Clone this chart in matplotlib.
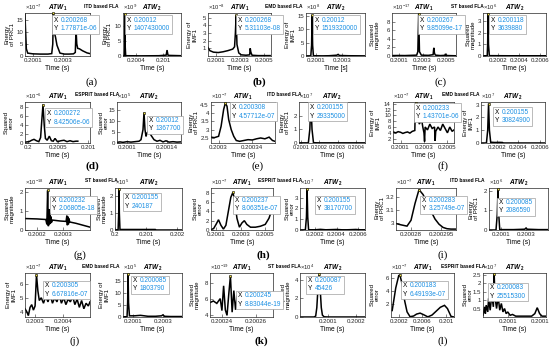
import matplotlib
matplotlib.use('Agg')
import matplotlib.pyplot as plt
from matplotlib.patches import Rectangle

plt.rcParams['font.family'] = ['Liberation Sans', 'DejaVu Sans']
plt.rcParams['mathtext.fontset'] = 'custom'
plt.rcParams['mathtext.rm'] = 'Liberation Sans'
plt.rcParams['mathtext.bf'] = 'Liberation Sans:bold'
plt.rcParams['mathtext.it'] = 'Liberation Sans:italic'

# ---------------- data (x in s, y in units of the axis exponent) ----------------
a1_x = [0.200047, 0.200050, 0.200056, 0.200065, 0.20010, 0.20015, 0.20020, 0.200225, 0.200232, 0.200236,
        0.200241, 0.200250, 0.20026, 0.20028, 0.20031, 0.20034, 0.20037, 0.200382, 0.200387, 0.200392,
        0.200398, 0.20041, 0.20043, 0.20046, 0.20048]
a1_y = [17.5, 12, 3, 1.2, 0.9, 0.8, 0.8, 1.0, 5, 17.8, 10, 8, 4.5, 1.2, 0.8, 0.8, 0.9, 1.5, 11, 5,
        3.2, 3, 2.2, 1.3, 1.0]
a2_x = [0.20010, 0.20013, 0.200140, 0.200145, 0.20015, 0.20016, 0.2005, 0.2009, 0.20106, 0.20108, 0.2011, 0.20113, 0.20139]
a2_y = [0.1, 0.1, 3, 14.07, 3, 0.1, 0.05, 0.1, 0.3, 2.0, 0.3, 0.2, 0.1]

b1_x = [0.200035, 0.20005, 0.20008, 0.20012, 0.20016, 0.2002, 0.20024, 0.200255, 0.200262, 0.200268,
        0.200275, 0.20029, 0.20031, 0.20035, 0.20038, 0.200385, 0.20039, 0.2004, 0.20045, 0.20055]
b1_y = [1.1, 0.7, 0.5, 0.45, 0.55, 0.7, 0.9, 1.2, 3, 5.31, 1.5, 0.4, 0.15, 0.1, 0.15, 1.0, 0.5, 0.1, 0.05, 0.05]
b2_x = [0.200023, 0.20006, 0.200066, 0.20007, 0.200074, 0.20008, 0.20015, 0.2002, 0.20026, 0.20027, 0.20028, 0.20035, 0.200477]
b2_y = [0.05, 0.05, 4, 15.19, 4, 0.1, 0.05, 0.1, 0.3, 0.6, 0.2, 0.1, 0.05]

c1_x = [0.20004, 0.2001, 0.20015, 0.20020, 0.20025, 0.20026, 0.200267, 0.200274, 0.20029, 0.20035, 0.20039,
        0.200396, 0.200402, 0.20041, 0.20045, 0.20049, 0.200496, 0.200502, 0.20052, 0.200585]
c1_y = [0.1, 0.12, 0.1, 0.15, 0.2, 1, 9.85, 1.0, 0.2, 0.15, 0.3, 1.9, 0.6, 0.2, 0.1, 0.15, 0.5, 0.15, 0.1, 0.05]
c2_x = [0.20006, 0.2001, 0.200104, 0.200108, 0.200112, 0.20012, 0.2003, 0.2005, 0.200656]
c2_y = [0.02, 0.02, 1, 3.64, 1, 0.03, 0.02, 0.02, 0.02]

d1_x = [0.19996, 0.20002, 0.20006, 0.2001, 0.20014, 0.20018, 0.20021, 0.20023, 0.20025, 0.20027, 0.20029,
        0.20032, 0.200355, 0.20039, 0.20042, 0.20045, 0.20049, 0.20055, 0.2006, 0.20065, 0.2007, 0.20075,
        0.2008, 0.20083]
d1_y = [0.2, 0.3, 0.6, 0.8, 0.5, 0.3, 1.2, 5, 8.43, 4, 1.0, 0.6, 1.5, 0.5, 0.4, 1.0, 0.3, 0.5, 0.6, 0.3,
        0.5, 0.3, 0.4, 0.4]
d2_x = [0.20009, 0.200093, 0.200096, 0.2001, 0.200104, 0.200108, 0.200112, 0.200114, 0.200116, 0.200117,
        0.200118, 0.200119, 0.20012, 0.200122, 0.200124, 0.200127, 0.20013, 0.200133, 0.200136, 0.200139,
        0.200142, 0.200146, 0.20015, 0.200154]
d2_y = [0.3, 0.5, 0.3, 0.6, 0.4, 0.6, 0.8, 1.5, 6, 13.68, 6, 3, 4.5, 5.5, 3.5, 1.5, 0.8, 1.2, 0.5, 1.0,
        0.4, 0.6, 0.4, 0.5]

e1_x = [0.200291, 0.200295, 0.2003, 0.200303, 0.200306, 0.200308, 0.200310, 0.200312, 0.200315, 0.200318,
        0.200321, 0.200325, 0.20033, 0.200335, 0.20034, 0.200345, 0.20035, 0.200355, 0.20036, 0.200364, 0.200367]
e1_y = [2.55, 2.52, 2.6, 3.2, 4.2, 4.58, 4.4, 3.6, 3.0, 2.6, 2.35, 2.3, 2.35, 2.4, 2.38, 2.45, 2.5, 2.45,
        2.55, 2.35, 2.3]
e2_x = [0.200089, 0.20014, 0.200148, 0.200154, 0.20016, 0.200168, 0.2002, 0.2003, 0.2004, 0.200449]
e2_y = [0.01, 0.01, 1, 2.93, 1, 0.02, 0.01, 0.01, 0.01, 0.01]

f1_x = [0.200036, 0.20006, 0.20008, 0.2001, 0.20012, 0.20014, 0.20016, 0.20018, 0.2002, 0.200222, 0.200226,
        0.200233, 0.20024, 0.20025, 0.20026, 0.20028, 0.20029, 0.2003, 0.200305, 0.20031, 0.20033, 0.20035,
        0.20037, 0.20039, 0.200395, 0.2004, 0.20042, 0.20044, 0.20046, 0.20048, 0.2005, 0.20052, 0.20054, 0.200556]
f1_y = [4.3, 4.0, 4.4, 4.2, 3.8, 4.1, 4.3, 3.9, 4.5, 4.8, 12, 14.37, 9, 10, 7, 8.5, 6, 4, 1, 6, 5, 7,
        5.5, 6, 1.2, 4.5, 6, 4.8, 7, 5.5, 4, 6, 4.5, 5]
f2_x = [0.200049, 0.2001, 0.200112, 0.20012, 0.200128, 0.20014, 0.20018, 0.20022, 0.20025, 0.20026, 0.2004, 0.20065]
f2_y = [0.0, 0.0, 1.0, 3.08, 1.0, 0.06, 0.04, 0.05, 0.04, 0.0, 0.0, 0.0]

g1_x = [0.200154, 0.2002, 0.200234, 0.200238, 0.200241, 0.200244, 0.200246, 0.200248, 0.20025, 0.200252,
        0.200254, 0.200256, 0.200259, 0.20029, 0.200312, 0.200315, 0.200317, 0.200319, 0.200321, 0.200323,
        0.200326, 0.20035, 0.200404]
g1_y = [0.6, 0.58, 0.55, 0.3, 2.07, 0.2, 1.1, 0.3, 0.9, 0.35, 0.7, 0.4, 0.52, 0.47, 0.45, 0.75, 0.25,
        0.7, 0.3, 0.6, 0.42, 0.35, 0.15]
g2_x = [0.2, 0.2001, 0.20012, 0.20013, 0.20014, 0.20016, 0.2007, 0.2013, 0.20132, 0.20216]
g2_y = [0.01, 0.01, 1, 2.40, 1, 0.03, 0.03, 0.03, 0.0, 0.0]

h1_x = [0.200059, 0.20008, 0.2001, 0.20012, 0.20014, 0.20016, 0.20018, 0.2002, 0.20022, 0.200237, 0.20025,
        0.20027, 0.20029, 0.20031, 0.20033, 0.20035, 0.20038, 0.20042, 0.20046, 0.2005, 0.20053, 0.200563]
h1_y = [0.1, 0.3, 1.2, 2.2, 1.0, 0.2, 1.0, 4.0, 7.0, 8.06, 6.5, 2.5, 0.6, 1.5, 2.0, 1.2, 0.6, 0.6, 0.8,
        1.2, 2.5, 5]
h2_x = [0.20006, 0.20011, 0.20012, 0.200126, 0.200132, 0.20014, 0.2002, 0.20025, 0.2003, 0.2004, 0.20045,
        0.2005, 0.20058, 0.20062, 0.200665]
h2_y = [0.01, 0.01, 1.2, 3.82, 1.2, 0.02, 0.02, 0.06, 0.02, 0.05, 0.02, 0.02, 0.05, 0.02, 0.02]

i1_x = [0.2002725, 0.200275, 0.200278, 0.20028, 0.200282, 0.200284, 0.200286, 0.200288, 0.20029, 0.200292,
        0.200294, 0.200296, 0.200298, 0.2003, 0.2003025]
i1_y = [2.995, 2.985, 2.975, 3.02, 3.15, 3.2575, 3.22, 3.16, 3.09, 3.03, 2.99, 2.965, 2.955, 2.952, 2.952]
i2_x = [0.200004, 0.20006, 0.20007, 0.200076, 0.200082, 0.20009, 0.2002, 0.20029, 0.2003, 0.20031, 0.2004, 0.200476]
i2_y = [0.0, 0.0, 0.8, 2.087, 0.8, 0.02, 0.02, 0.04, 0.1, 0.04, 0.02, 0.02]

j1_x = [0.200264, 0.20027, 0.200276, 0.200282, 0.200288, 0.200294, 0.2003, 0.200305, 0.20031, 0.200315,
        0.200322, 0.20033, 0.200338, 0.200346, 0.200354, 0.200362, 0.20037, 0.200378, 0.200386, 0.200394,
        0.200402, 0.20041, 0.200418, 0.200426, 0.200434, 0.200442, 0.20045, 0.200458, 0.200466, 0.200474,
        0.200482, 0.20049, 0.200496]
j1_y = [4.2, 4.0, 3.7, 4.3, 4.5, 4.1, 4.4, 6.68, 5.5, 4.8, 5.0, 4.6, 5.1, 4.7, 5.2, 4.6, 5.0, 4.7, 5.2,
        4.6, 5.0, 4.5, 4.9, 4.7, 5.1, 4.5, 4.9, 4.3, 4.8, 4.2, 4.6, 4.4, 4.7]
j2_x = [0.200033, 0.20006, 0.200064, 0.200067, 0.20007, 0.200076, 0.20011, 0.20015, 0.2002, 0.20025,
        0.20029, 0.2003, 0.20031, 0.20035, 0.200427]
j2_y = [0.1, 0.1, 6, 18.04, 6, 0.5, 0.5, 0.7, 0.3, 0.3, 0.5, 0.9, 0.3, 0.2, 0.2]

k1_x = [0.200233, 0.200235, 0.200237, 0.200239, 0.20024, 0.200241, 0.200242, 0.200243, 0.200244, 0.200245,
        0.200246, 0.200247, 0.200248, 0.200249, 0.20025, 0.200251, 0.200252, 0.200254, 0.200258, 0.200262,
        0.200266, 0.20027]
k1_y = [5.5, 5.7, 5.4, 6.0, 4.5, 7.6, 4.6, 3.9, 6.5, 8.83, 4.3, 7.0, 4.6, 6.4, 5.0, 6.0, 5.3, 5.6, 5.4,
        5.3, 5.1, 5.0]
k2_x = [0.2, 0.20005, 0.200056, 0.20006, 0.200064, 0.200068, 0.200072, 0.200076, 0.20008, 0.200086, 0.2001,
        0.2002, 0.200232]
k2_y = [0, 0, 0.1, 1.0, 3.0, 4.54, 3.0, 1.0, 0.2, 0.02, 0, 0, 0]

l1_x = [0.20009, 0.20015, 0.2002, 0.20022, 0.20026, 0.2003, 0.20034, 0.20039, 0.20045, 0.2005, 0.20056,
        0.20062, 0.20069, 0.20076, 0.20083, 0.2009, 0.20097, 0.20102, 0.20108, 0.20113]
l1_y = [1.0, 4.5, 6.4, 6.49, 5.0, 2.5, 0.8, 0.05, 0.15, 0.45, 0.6, 0.35, 0.02, 0.3, 0.9, 1.5, 1.8, 1.3, 0.1, 0.0]
l2_x = [0.200069, 0.200071, 0.200072, 0.200073, 0.200075, 0.200076, 0.200078, 0.20008, 0.200082, 0.200083,
        0.200084, 0.200086, 0.200088, 0.20009, 0.200092, 0.200094, 0.200096, 0.200098, 0.2001, 0.200103,
        0.200106, 0.20011, 0.20012, 0.20013, 0.200134, 0.200137, 0.20014, 0.200143, 0.200148]
l2_y = [0.1, 0.6, 0.2, 0.7, 0.3, 1.1, 0.4, 1.3, 0.6, 2.55, 1.2, 0.5, 1.2, 0.4, 0.8, 0.3, 0.5, 0.2, 0.3,
        0.1, 0.15, 0.05, 0.05, 0.05, 0.2, 0.55, 0.2, 0.05, 0.05]

# datatip texts
tips = {
    'a1': ('0.200268', '1.77871e-06'), 'a2': ('0.20012', '1407430000'),
    'b1': ('0.200268', '5.31103e-08'), 'b2': ('0.20012', '1519320000'),
    'c1': ('0.200267', '9.85099e-17'), 'c2': ('0.200118', '3639880'),
    'd1': ('0.200272', '8.42506e-06'), 'd2': ('0.20012', '1367700'),
    'e1': ('0.200308', '4.57712e-07'), 'e2': ('0.200155', '29335000'),
    'f1': ('0.200233', '1.43701e-06'), 'f2': ('0.200155', '30824900'),
    'g1': ('0.200232', '2.06805e-18'), 'g2': ('0.200155', '240187'),
    'h1': ('0.200237', '8.06351e-07'), 'h2': ('0.200155', '38170700'),
    'i1': ('0.200283', '3.25749e-07'), 'i2': ('0.200085', '2086590'),
    'j1': ('0.200305', '6.67816e-07'), 'j2': ('0.200085', '1803790'),
    'k1': ('0.200245', '8.83044e-19'), 'k2': ('0.200087', '45426'),
    'l1': ('0.200183', '6.49193e-07'), 'l2': ('0.200083', '25515300'),
}
methods = {'a': 'ITD', 'b': 'EMD', 'c': 'ST', 'd': 'ESPRIT', 'e': 'ITD', 'f': 'EMD',
           'g': 'ST', 'h': 'ESPRIT', 'i': 'ITD', 'j': 'EMD', 'k': 'ST', 'l': 'ESPRIT'}
ylabels = {'ITD': 'Energy\nof PRC1', 'EMD': 'Energy of\nIMF1', 'ST': 'Squared\nmagnitude',
           'ESPRIT': 'Squared\nerror'}

# axis settings: xlim, xticks, xticklabels, ylim, yticks, exponent
axcfg = {
    'a1': ((0.200047, 0.20048), [0.2001, 0.2003], ['0.2001', '0.2003'], (0, 18), [0, 5, 10, 15], '-7'),
    'a2': ((0.20010, 0.20139), [0.2004, 0.201], ['0.2004', '0.201'], (0, 14.5), [0, 5, 10], '9'),
    'b1': ((0.200035, 0.200557), [0.2001, 0.2003, 0.2005], ['0.2001', '0.2003', '0.2005'], (0, 5.6), [1, 2, 3, 4, 5], '-8'),
    'b2': ((0.200023, 0.200477), [0.2001, 0.2003], ['0.2001', '0.2003'], (0, 16), [0, 5, 10, 15], '8'),
    'c1': ((0.20004, 0.200585), [0.2001, 0.2003, 0.2005], ['0.2001', '0.2003', '0.2005'], (0, 10), [0, 2, 4, 6, 8], '-17'),
    'c2': ((0.20006, 0.200656), [0.2002, 0.2004, 0.2006], ['0.2002', '0.2004', '0.2006'], (0, 3.7), [0, 1, 2, 3], '6'),
    'd1': ((0.19995, 0.201033), [0.2, 0.2005, 0.201], ['0.2', '0.2005', '0.201'], (0, 9), [0, 2, 4, 6, 8], '-6'),
    'd2': ((0.20009, 0.200154), [0.2001, 0.20014], ['0.2001', '0.20014'], (0, 18.5), [0, 5, 10, 15], '5'),
    'e1': ((0.200291, 0.200367), [0.2003, 0.20034], ['0.2003', '0.20034'], (2.2, 4.65), [2.5, 3, 3.5, 4, 4.5], '-7'),
    'e2': ((0.200089, 0.200449), [0.2001, 0.2002, 0.2003, 0.2004], ['0.2001', '0.2002', '0.2003', '0.2004'], (0, 3.0), [0, 1, 2], '7'),
    'f1': ((0.200036, 0.200556), [0.2001, 0.2003, 0.2005], ['0.2001', '0.2003', '0.2005'], (0.5, 14.6), [2, 4, 6, 8, 10, 12, 14], '-7'),
    'f2': ((0.200049, 0.20065), [0.2002, 0.2004, 0.2006], ['0.2002', '0.2004', '0.2006'], (0, 3.2), [0, 1, 2, 3], '7'),
    'g1': ((0.200154, 0.200404), [0.2002, 0.2003], ['0.2002', '0.2003'], (0, 2.2), [0, 1, 2], '-18'),
    'g2': ((0.2, 0.20216), [0.2, 0.201, 0.202], ['0.2', '0.201', '0.202'], (0, 2.45), [0, 1, 2], '5'),
    'h1': ((0.200059, 0.200563), [0.2001, 0.2003, 0.2005], ['0.2001', '0.2003', '0.2005'], (0, 9), [0, 2, 4, 6, 8], '-7'),
    'h2': ((0.20006, 0.200665), [0.2002, 0.2004, 0.2006], ['0.2002', '0.2004', '0.2006'], (0, 3.9), [0, 1, 2, 3], '7'),
    'i1': ((0.2002725, 0.2003025), [0.20028, 0.200295], ['0.20028', '0.200295'], (2.945, 3.27), [3, 3.1, 3.2], '-7'),
    'i2': ((0.200004, 0.200476), [0.2001, 0.2003], ['0.2001', '0.2003'], (0, 2.15), [0, 1, 2], '6'),
    'j1': ((0.200264, 0.200496), [0.2003, 0.2004], ['0.2003', '0.2004'], (3.6, 6.8), [4, 5, 6], '-7'),
    'j2': ((0.200033, 0.200427), [0.2001, 0.2003], ['0.2001', '0.2003'], (0, 18.5), [0, 5, 10, 15], '5'),
    'k1': ((0.200233, 0.20027), [0.20024, 0.20026], ['0.20024', '0.20026'], (3.7, 9.2), [4, 6, 8], '-19'),
    'k2': ((0.2, 0.200232), [0.2001, 0.2002], ['0.2001', '0.2002'], (0, 4.7), [0, 2, 4], '4'),
    'l1': ((0.20007, 0.20113), [0.2002, 0.2006, 0.201], ['0.2002', '0.2006', '0.201'], (0, 6.8), [2, 4, 6], '-7'),
    'l2': ((0.200069, 0.200148), [0.2001, 0.20014], ['0.2001', '0.2001'], (0, 2.6), [0.5, 1, 1.5, 2, 2.5], '7'),
}

series = {
    'a1': (a1_x, a1_y), 'a2': (a2_x, a2_y), 'b1': (b1_x, b1_y), 'b2': (b2_x, b2_y),
    'c1': (c1_x, c1_y), 'c2': (c2_x, c2_y), 'd1': (d1_x, d1_y), 'd2': (d2_x, d2_y),
    'e1': (e1_x, e1_y), 'e2': (e2_x, e2_y), 'f1': (f1_x, f1_y), 'f2': (f2_x, f2_y),
    'g1': (g1_x, g1_y), 'g2': (g2_x, g2_y), 'h1': (h1_x, h1_y), 'h2': (h2_x, h2_y),
    'i1': (i1_x, i1_y), 'i2': (i2_x, i2_y), 'j1': (j1_x, j1_y), 'j2': (j2_x, j2_y),
    'k1': (k1_x, k1_y), 'k2': (k2_x, k2_y), 'l1': (l1_x, l1_y), 'l2': (l2_x, l2_y),
}

# ---------------- layout (pixels) ----------------
W, H = 550, 352
rows = {'a': (13, 56), 'b': (13, 56), 'c': (13, 56),
        'd': (102, 143), 'e': (102, 143), 'f': (102, 143),
        'g': (188, 230), 'h': (188, 230), 'i': (188, 230),
        'j': (273, 317), 'k': (273, 317), 'l': (273, 317)}
xpos = {'a1': (25, 90), 'a2': (123, 181), 'b1': (208, 271), 'b2': (306, 365), 'c1': (392, 456), 'c2': (483, 546),
        'd1': (25, 90), 'd2': (117, 181), 'e1': (211, 275), 'e2': (299, 365), 'f1': (393, 454), 'f2': (481, 545),
        'g1': (25, 90), 'g2': (115, 182), 'h1': (211, 273), 'h2': (300, 365), 'i1': (396, 456), 'i2': (489, 548),
        'j1': (25, 90), 'j2': (123, 182), 'k1': (210, 273), 'k2': (300, 365), 'l1': (391, 454), 'l2': (483, 546)}
ylabx = {'a1': 10, 'a2': 107, 'b1': 192, 'b2': 290, 'c1': 375, 'c2': 471,
         'd1': 9, 'd2': 104, 'e1': 194, 'e2': 285, 'f1': 375, 'f2': 468,
         'g1': 10, 'g2': 102, 'h1': 198, 'h2': 290, 'i1': 380, 'i2': 474,
         'j1': 11, 'j2': 104, 'k1': 195, 'k2': 286, 'l1': 375, 'l2': 468}
tippos = {'a1': (52, 15), 'a2': (125, 15), 'b1': (236, 15), 'b2': (313, 15), 'c1': (418, 15), 'c2': (489, 15),
          'd1': (45, 108), 'd2': (147, 115), 'e1': (230, 102), 'e2': (308, 102), 'f1': (414, 103), 'f2': (493, 107),
          'g1': (50, 195), 'g2': (123, 192), 'h1': (233, 195), 'h2': (315, 195), 'i1': (420, 195), 'i2': (497, 197),
          'j1': (43, 280), 'j2': (131, 275), 'k1': (236, 290), 'k2': (306, 275), 'l1': (401, 280), 'l2': (488, 282)}
labpos = {'a': (92, 82), 'b': (259, 82), 'c': (441, 82), 'd': (92, 166), 'e': (258, 166), 'f': (443, 166),
          'g': (80, 255), 'h': (263, 255), 'i': (443, 255), 'j': (75, 341), 'k': (261, 341), 'l': (443, 341)}
labbold = {'b', 'd', 'h', 'k'}
panel_x0 = {'a': 0, 'b': 183, 'c': 366, 'd': 0, 'e': 183, 'f': 366, 'g': 0, 'h': 183, 'i': 366,
            'j': 0, 'k': 183, 'l': 366}
flax = {'a': 101, 'b': 101, 'c': 101, 'd': 97, 'e': 101, 'f': 95, 'g': 101, 'h': 97, 'i': 101,
        'j': 101, 'k': 101, 'l': 97}
ticksize = {'e2': 3.9}

BLUE = '#1a8fe3'
TIPFS = 4.7
fig = plt.figure(figsize=(W / 100, H / 100), dpi=100)


def fx(x):
    return x / W


def fy(y):
    return 1 - y / H


tip_texts = []
for key in series:
    p = key[0]
    sub = key[1]
    x0, x1 = xpos[key]
    yt, yb = rows[p]
    ax = fig.add_axes([fx(x0), fy(yb), (x1 - x0) / W, (yb - yt) / H])
    xs, ys = series[key]
    xl, xt, xtl, yl, yt_, ex = axcfg[key]
    ax.plot(xs, ys, color='black', lw=1.1, solid_joinstyle='miter')
    ax.set_xlim(*xl)
    ax.set_ylim(*yl)
    ax.set_xticks(xt)
    ax.set_xticklabels(xtl)
    ax.set_yticks(yt_)
    ax.set_yticklabels([('%g' % v) for v in yt_])
    ax.tick_params(labelsize=4.4, length=2, width=0.4, direction='in', pad=1.5, colors='#262626')
    if key in ticksize:
        ax.tick_params(axis='x', labelsize=ticksize[key])
    for s in ax.spines.values():
        s.set_linewidth(0.5)
        s.set_color('#262626')
    ax.text(0, 1.015, r'$\times$10$^{%s}$' % ex, transform=ax.transAxes, fontsize=4.2,
            ha='left', va='bottom', color='#262626')
    ax.set_ylabel(ylabels[methods[p]], fontsize=4.4, linespacing=1.0)
    ax.yaxis.label.set_verticalalignment('center')
    ax.yaxis.set_label_coords((ylabx[key] - x0) / (x1 - x0), 0.5)
    ax.set_xlabel('Time [s]' if key == 'b2' else 'Time (s)', fontsize=4.8, labelpad=1.5)
    ax.set_title(r'ATW$_{\mathbf{%s}}$' % sub, fontsize=4.7, fontweight='bold', style='italic', pad=2.5)
    # datatip marker at the maximum of the series
    im = max(range(len(ys)), key=lambda i: ys[i])
    ax.plot([xs[im]], [ys[im]], marker='s', ms=2, mfc='#f0e040', mec='black', mew=0.4, clip_on=False, zorder=5)
    bx, by = tippos[key]
    xv, yv = tips[key]
    t1 = fig.text(fx(bx + 2), fy(by + 2), 'X\nY', color='black', fontsize=TIPFS, ha='left', va='top',
                  linespacing=1.3, zorder=11)
    t2 = fig.text(fx(bx + 8.5), fy(by + 2), xv + '\n' + yv, color=BLUE, fontsize=TIPFS, ha='left', va='top',
                  linespacing=1.3, zorder=11)
    tip_texts.append((t1, t2))

for p in methods:
    x0 = panel_x0[p]
    yt = rows[p][0]
    fig.text(fx(x0 + flax[p]), fy(yt - 7), methods[p] + ' based FLA', fontsize=3.5, fontweight='bold',
             ha='center', va='center', zorder=12)
    lx, ly = labpos[p]
    fig.text(fx(lx), fy(ly), '(' + p + ')', fontsize=8, family='Liberation Serif',
             fontweight='bold' if p in labbold else 'normal', ha='center', va='center')

# datatip boxes sized to their texts
fig.canvas.draw()
r = fig.canvas.get_renderer()
for t1, t2 in tip_texts:
    e1 = t1.get_window_extent(r)
    e2 = t2.get_window_extent(r)
    xa = min(e1.x0, e2.x0) - 2
    xb = max(e1.x1, e2.x1) + 2
    ya = min(e1.y0, e2.y0) - 1.5
    yb_ = max(e1.y1, e2.y1) + 1.5
    rect = Rectangle((xa / W, ya / H), (xb - xa) / W, (yb_ - ya) / H, transform=fig.transFigure,
                     fc='white', ec='#a0a0a0', lw=0.5, zorder=10)
    fig.add_artist(rect)

fig.savefig('out.png', dpi=100)
